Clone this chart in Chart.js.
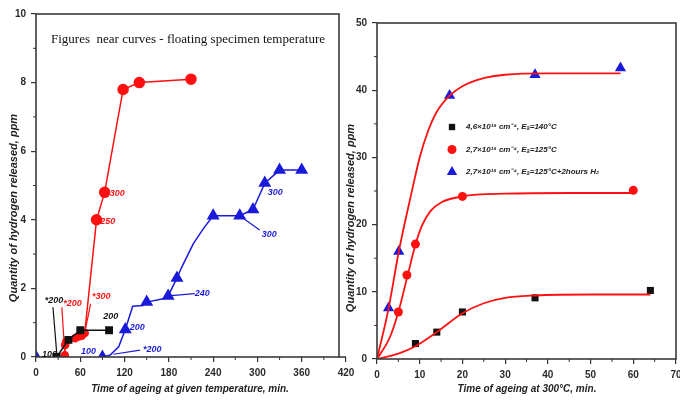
<!DOCTYPE html>
<html>
<head>
<meta charset="utf-8">
<script src="https://cdn.jsdelivr.net/npm/chart.js@4.4.1/dist/chart.umd.min.js"></script>
<style>
  html, body { margin: 0; padding: 0; background: #fff; overflow: hidden; }
  #wrap { position: relative; width: 680px; height: 401px; }
  .panel { position: absolute; top: 0; height: 401px; }
</style>
</head>
<body>
<div id="wrap">
  <div class="panel" style="left:0;width:360px"><canvas id="leftChart" width="360" height="401"></canvas></div>
  <div class="panel" style="left:340px;width:350px"><canvas id="rightChart" width="350" height="401"></canvas></div>
</div>
<script>
// ---- Left panel: ageing at given temperature ----
const blackTime = [28, 44, 60, 99];
const blackQty  = [0, 0.5, 0.78, 0.78];

const redTime = [39, 39.5, 41, 53, 58, 62, 66, 82, 93, 118, 140, 210];
const redQty  = [0.05, 0.35, 0.45, 0.55, 0.6, 0.62, 0.7, 4.0, 4.8, 7.8, 8.0, 8.1];
const redBigTimes = [82, 93, 118, 140, 210];

const blueTime = [0, 45, 90, 100, 112, 121, 131, 145, 150, 177, 179, 191, 197, 213, 227, 240, 276, 294, 310, 330, 360];
const blueQty  = [0, null, 0, 0.05, 0.3, 0.8, 1.48, 1.5, 1.6, 1.72, 1.78, 2.3, 2.6, 3.3, 3.75, 4.12, 4.12, 4.3, 5.07, 5.45, 5.45];
const blueMarkTimes = [0, 90, 121, 150, 179, 191, 240, 276, 294, 310, 330, 360];

// leader lines from curves to temperature notes
const leaders = [
  { color: '#111111', t: [23, 28.5], q: [1.45, 0] },
  { color: '#ff1010', t: [35, 39], q: [1.45, 0.1] },
  { color: '#ff1010', t: [66, 74], q: [0.7, 1.55] },
  { color: '#1a1adb', t: [105, 141], q: [0.08, 0.2] },
  { color: '#1a1adb', t: [179, 215], q: [1.78, 1.85] },
  { color: '#1a1adb', t: [276, 303], q: [4.12, 3.7] }
];
const leftNotes = [
  { text: '100',  t: 8,   q: 0.06, color: '#111111' },
  { text: '*200', t: 12,  q: 1.66, color: '#111111' },
  { text: '200',  t: 91,  q: 1.17, color: '#111111' },
  { text: '*200', t: 37,  q: 1.57, color: '#ff1010' },
  { text: '*300', t: 76,  q: 1.75, color: '#ff1010' },
  { text: '250',  t: 87,  q: 3.96, color: '#ff1010' },
  { text: '300',  t: 100, q: 4.78, color: '#ff1010' },
  { text: '100',  t: 61,  q: 0.17, color: '#1a1adb' },
  { text: '*200', t: 145, q: 0.23, color: '#1a1adb' },
  { text: '200',  t: 127, q: 0.85, color: '#1a1adb' },
  { text: '240',  t: 215, q: 1.84, color: '#1a1adb' },
  { text: '300',  t: 306, q: 3.56, color: '#1a1adb' },
  { text: '300',  t: 314, q: 4.81, color: '#1a1adb' }
];

// ---- Right panel: ageing at 300°C ----
const rBlackT = [9, 14, 20, 37, 64];
const rBlackQ = [2.3, 4.0, 7.0, 9.1, 10.2];
const rRedT = [5, 7, 9, 20, 60];
const rRedQ = [7.0, 12.5, 17.1, 24.2, 25.1];
const rBlueT = [2.7, 5.1, 17, 37, 57];
const rBlueQ = [7.6, 16.0, 39.2, 42.3, 43.3];

const fitBlackT = [0, 5, 9, 14, 20, 25, 30, 37, 50, 64];
const fitBlackQ = [0, 0.8, 1.9, 4.0, 6.8, 8.3, 9.1, 9.45, 9.6, 9.6];
const fitRedT = [0, 3, 5, 7, 9, 10.5, 12.5, 15, 20, 30, 45, 60];
const fitRedQ = [0, 3.2, 7, 12, 17, 19.8, 22, 23.3, 24.2, 24.6, 24.7, 24.7];
const fitBlueT = [0, 2.7, 5.1, 8, 10, 12, 14, 17, 20, 25, 30, 40, 57];
const fitBlueQ = [0, 7.5, 16, 24.5, 30, 34, 36.8, 39.2, 40.6, 41.8, 42.3, 42.5, 42.5];

const legendLabels = [
  '4,6×10¹⁸ cm⁻⁴, Eₐ=140°C',
  '2,7×10¹⁸ cm⁻⁴, Eₐ=125°C',
  '2,7×10¹⁸ cm⁻⁴, Eₐ=125°C+2hours H₂'
];

const RED = '#ff1010';
const BLUE = '#1a1adb';
const BLACK = '#111111';
const SANS = '"Liberation Sans", Arial, sans-serif';

const pts = (xs, ys) => xs.map((x, i) => ({ x: x, y: ys[i] }));

// frame, minor ticks, axis titles, notes, legend
const decoPlugin = {
  id: 'deco',
  afterDatasetsDraw(chart, args, opts) {
    const { ctx, chartArea: a, scales: { x, y } } = chart;
    ctx.save();
    const right = opts.frameRight || a.right;
    ctx.strokeStyle = '#3a3a3a';
    ctx.lineWidth = 1.6;
    ctx.strokeRect(a.left, a.top, right - a.left, a.bottom - a.top);
    if (opts.frameRight) {
      ctx.beginPath(); ctx.moveTo(right, a.bottom); ctx.lineTo(a.right, a.bottom); ctx.stroke();
    }

    // minor ticks
    ctx.lineWidth = 1;
    ctx.strokeStyle = '#333';
    for (let v = opts.xMinor; v < x.max; v += opts.xMinor * 2) {
      const px = x.getPixelForValue(v);
      ctx.beginPath(); ctx.moveTo(px, a.bottom); ctx.lineTo(px, a.bottom + 3); ctx.stroke();
    }
    for (let v = opts.yMinor; v < y.max; v += opts.yMinor * 2) {
      const py = y.getPixelForValue(v);
      ctx.beginPath(); ctx.moveTo(a.left, py); ctx.lineTo(a.left - 3, py); ctx.stroke();
    }

    // axis titles
    ctx.fillStyle = '#222';
    ctx.textAlign = 'center';
    ctx.textBaseline = 'middle';
    ctx.font = 'italic bold 10px ' + SANS;
    ctx.fillText(opts.xTitle.text, opts.xTitle.x, opts.xTitle.y);
    ctx.save();
    ctx.translate(opts.yTitle.x, opts.yTitle.y);
    ctx.rotate(-Math.PI / 2);
    ctx.font = 'italic bold 11px ' + SANS;
    ctx.fillText(opts.yTitle.text, 0, 0);
    ctx.restore();

    if (opts.title) {
      ctx.font = '13px "Liberation Serif", "Times New Roman", serif';
      ctx.fillStyle = '#111';
      ctx.fillText(opts.title.text, opts.title.x, opts.title.y);
    }

    // temperature notes
    ctx.textAlign = 'left';
    ctx.font = 'italic bold 9px ' + SANS;
    (opts.notes || []).forEach(n => {
      ctx.fillStyle = n.color;
      ctx.fillText(n.text, x.getPixelForValue(n.t), y.getPixelForValue(n.q));
    });

    // legend
    if (opts.legend) {
      const L = opts.legend;
      L.items.forEach((it, i) => {
        const ly = L.y + i * L.gap;
        ctx.fillStyle = it.color;
        ctx.strokeStyle = it.color;
        Chart.helpers.drawPoint(ctx, { pointStyle: it.style, radius: it.radius, rotation: 0, borderWidth: 0 }, L.x, ly);
        ctx.fillStyle = '#222';
        ctx.font = 'italic bold 8px ' + SANS;
        ctx.fillText(it.text, L.x + 14, ly);
      });
    }
    ctx.restore();
  }
};

function axis(min, max, step, fit) {
  return {
    type: 'linear', min: min, max: max,
    ticks: {
      stepSize: step, color: '#2b2b2b', padding: 5, maxRotation: 0, autoSkip: false,
      font: { family: '"Liberation Sans Narrow", "Liberation Sans", Arial, sans-serif', size: 10, weight: 'bold' }
    },
    grid: { drawOnChartArea: false, drawTicks: true, tickLength: 5, color: '#333', lineWidth: 1.2 },
    border: { display: false },
    afterFit: fit
  };
}

const leftDatasets = [
  {
    data: pts(blackTime, blackQty), borderColor: BLACK, backgroundColor: BLACK, borderWidth: 1.5,
    pointStyle: 'rect', pointRadius: 4.5, tension: 0
  },
  {
    data: pts(redTime, redQty), borderColor: RED, backgroundColor: RED, borderWidth: 1.5,
    pointStyle: 'circle', pointRadius: c => redBigTimes.includes(c.raw.x) ? 5 : 3.5, tension: 0
  },
  {
    data: pts(blueTime, blueQty), borderColor: BLUE, backgroundColor: BLUE, borderWidth: 1.5,
    pointStyle: 'triangle', pointRadius: c => blueMarkTimes.includes(c.raw.x) ? 6 : 0, tension: 0, spanGaps: false
  }
].concat(leaders.map(l => ({
  data: pts(l.t, l.q), borderColor: l.color, borderWidth: 1.2, pointRadius: 0, tension: 0
})));

new Chart(document.getElementById('leftChart'), {
  type: 'line',
  data: { datasets: leftDatasets },
  options: {
    responsive: false, animation: false,
    layout: { padding: { top: 14, right: 14, left: 0, bottom: 0 } },
    plugins: {
      legend: { display: false }, tooltip: { enabled: false },
      deco: {
        xMinor: 30, yMinor: 1, frameRight: 339,
        xTitle: { text: 'Time of ageing at given temperature, min.', x: 190, y: 389 },
        yTitle: { text: 'Quantity of hydrogen released, ppm', x: 14, y: 208 },
        title: { text: 'Figures  near curves - floating specimen temperature', x: 188, y: 40 },
        notes: leftNotes
      }
    },
    scales: {
      x: axis(0, 420, 60, s => { s.height = 44; }),
      y: axis(0, 10, 2, s => { s.width = 36; })
    }
  },
  plugins: [decoPlugin]
});

const fitLine = (t, q) => ({
  data: pts(t, q), borderColor: RED, borderWidth: 1.8, pointRadius: 0,
  cubicInterpolationMode: 'monotone'
});
const markers = (t, q, color, style, r) => ({
  data: pts(t, q), showLine: false, backgroundColor: color, borderColor: color,
  pointStyle: style, pointRadius: r, borderWidth: 0
});

new Chart(document.getElementById('rightChart'), {
  type: 'line',
  data: {
    datasets: [
      fitLine(fitBlackT, fitBlackQ),
      fitLine(fitRedT, fitRedQ),
      fitLine(fitBlueT, fitBlueQ),
      markers(rBlackT, rBlackQ, BLACK, 'rect', 5),
      markers(rRedT, rRedQ, RED, 'circle', 4.5),
      markers(rBlueT, rBlueQ, BLUE, 'triangle', 6.5)
    ]
  },
  options: {
    responsive: false, animation: false,
    layout: { padding: { top: 23, right: 14, left: 0, bottom: 0 } },
    plugins: {
      legend: { display: false }, tooltip: { enabled: false },
      deco: {
        xMinor: 5, yMinor: 5,
        xTitle: { text: 'Time of ageing at 300°C, min.', x: 187, y: 389 },
        yTitle: { text: 'Quantity of hydrogen released, ppm', x: 11, y: 218 },
        legend: {
          x: 112, y: 127, gap: 22.5,
          items: [
            { text: legendLabels[0], color: BLACK, style: 'rect', radius: 4.5 },
            { text: legendLabels[1], color: RED, style: 'circle', radius: 4.5 },
            { text: legendLabels[2], color: BLUE, style: 'triangle', radius: 6 }
          ]
        }
      }
    },
    scales: {
      x: axis(0, 70, 10, s => { s.height = 42; }),
      y: axis(0, 50, 10, s => { s.width = 37; })
    }
  },
  plugins: [decoPlugin]
});
</script>
</body>
</html>
